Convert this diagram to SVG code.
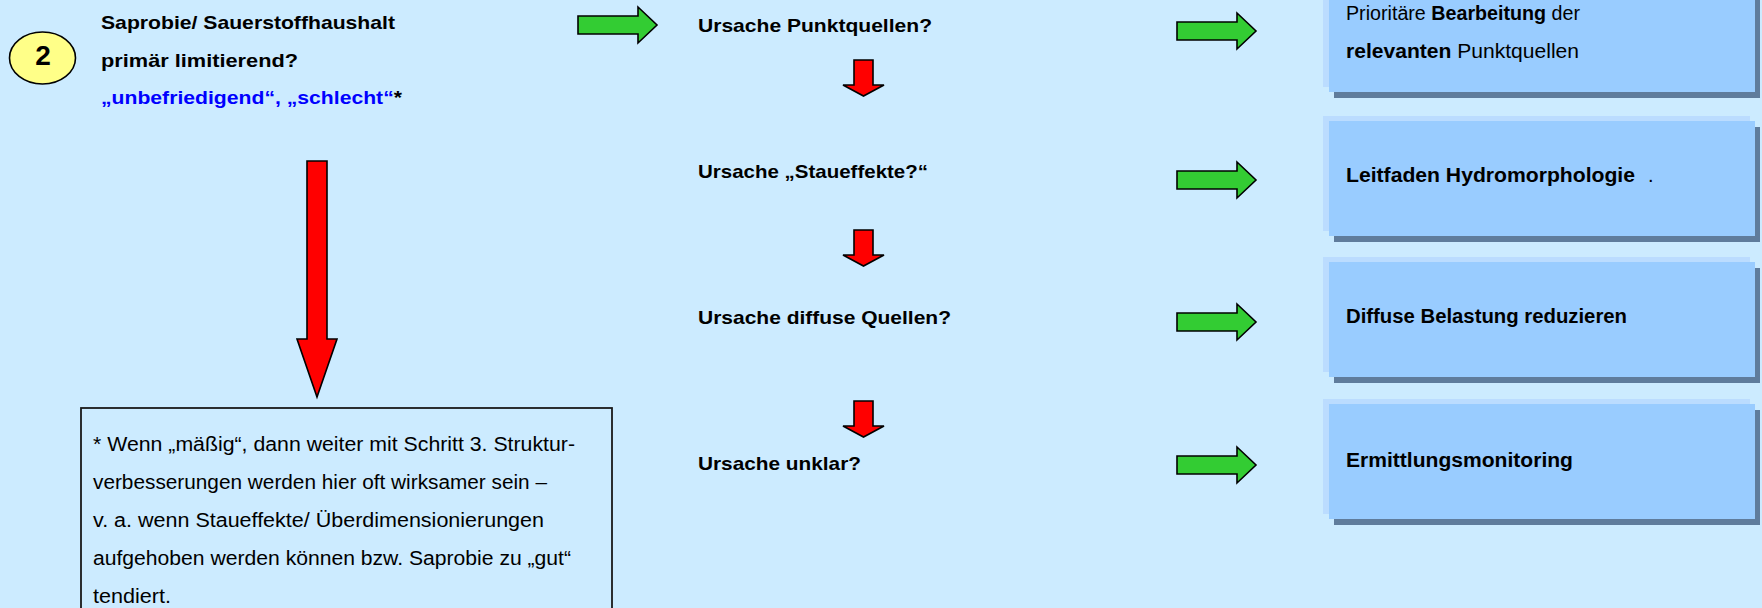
<svg xmlns="http://www.w3.org/2000/svg" width="1762" height="608" viewBox="0 0 1762 608">
<style>
.t{font-family:"Liberation Sans",Arial,sans-serif;fill:#000}
.b{font-weight:bold}
.bl{fill:#0000ff}
.g{fill:#33cc33;stroke:#000;stroke-width:1.6;stroke-linejoin:miter}
.r{fill:#ff0000;stroke:#000;stroke-width:1.6;stroke-linejoin:miter}
.bx{fill:#99ccff}
.lt{fill:#bbdcff}
.sh{fill:#5f7c9c}
</style>
<defs>
<path id="ga" d="M0,9 H60 V0 L79,18 L60,36 V27 H0 Z"/>
<path id="rs" d="M11,0 H30 V25 H41 L20.5,36 L0,25 H11 Z"/>
</defs>
<rect width="1762" height="608" fill="#ccebff"/>

<g id="step-circle">
<ellipse cx="42.5" cy="58" rx="33" ry="26" fill="#ffff88" stroke="#000" stroke-width="1.6"/>
<text class="t b" x="43" y="64.5" font-size="28" text-anchor="middle">2</text>
</g>

<g id="title">
<text class="t b" x="101" y="29" font-size="19" textLength="294" lengthAdjust="spacingAndGlyphs">Saprobie/ Sauerstoffhaushalt</text>
<text class="t b" x="101" y="67" font-size="19" textLength="197" lengthAdjust="spacingAndGlyphs">primär limitierend?</text>
<text class="t b" x="101" y="104" font-size="19" textLength="301" lengthAdjust="spacingAndGlyphs"><tspan class="bl">„unbefriedigend“, „schlecht“</tspan>*</text>
</g>

<g id="footnote">
<rect x="81" y="408" width="531" height="220" fill="none" stroke="#1a1a1a" stroke-width="1.8"/>
<text class="t" x="93" y="451" font-size="20" textLength="482" lengthAdjust="spacingAndGlyphs">* Wenn „mäßig“, dann weiter mit Schritt 3. Struktur-</text>
<text class="t" x="93" y="489" font-size="20" textLength="454" lengthAdjust="spacingAndGlyphs">verbesserungen werden hier oft wirksamer sein –</text>
<text class="t" x="93" y="527" font-size="20" textLength="451" lengthAdjust="spacingAndGlyphs">v. a. wenn Staueffekte/ Überdimensionierungen</text>
<text class="t" x="93" y="565" font-size="20" textLength="478" lengthAdjust="spacingAndGlyphs">aufgehoben werden können bzw. Saprobie zu „gut“</text>
<text class="t" x="93" y="603" font-size="20" textLength="78" lengthAdjust="spacingAndGlyphs">tendiert.</text>
</g>

<g id="cause-point">
<text class="t b" x="698" y="32" font-size="19" textLength="234" lengthAdjust="spacingAndGlyphs">Ursache Punktquellen?</text>
</g>
<g id="cause-stau">
<text class="t b" x="698" y="178" font-size="19" textLength="230" lengthAdjust="spacingAndGlyphs">Ursache „Staueffekte?“</text>
</g>
<g id="cause-diffuse">
<text class="t b" x="698" y="324" font-size="19" textLength="253" lengthAdjust="spacingAndGlyphs">Ursache diffuse Quellen?</text>
</g>
<g id="cause-unclear">
<text class="t b" x="698" y="470" font-size="19" textLength="163" lengthAdjust="spacingAndGlyphs">Ursache unklar?</text>
</g>

<g id="box-point">
<rect class="lt" x="1323" y="-28" width="427" height="115"/>
<rect class="sh" x="1334" y="-17" width="426" height="115"/>
<rect class="bx" x="1329" y="-23" width="426" height="115"/>
<text class="t" x="1346" y="20" font-size="20" textLength="234" lengthAdjust="spacingAndGlyphs">Prioritäre <tspan class="b">Bearbeitung</tspan> der</text>
<text class="t" x="1346" y="58" font-size="20" textLength="233" lengthAdjust="spacingAndGlyphs"><tspan class="b">relevanten</tspan> Punktquellen</text>
</g>
<g id="box-hydro">
<rect class="lt" x="1323" y="116" width="427" height="115"/>
<rect class="sh" x="1334" y="127" width="426" height="115"/>
<rect class="bx" x="1329" y="121" width="426" height="115"/>
<text class="t b" x="1346" y="182" font-size="20" textLength="289" lengthAdjust="spacingAndGlyphs">Leitfaden Hydromorphologie</text>
<text class="t" x="1648" y="182" font-size="20">.</text>
</g>
<g id="box-diffuse">
<rect class="lt" x="1323" y="257" width="427" height="115"/>
<rect class="sh" x="1334" y="268" width="426" height="115"/>
<rect class="bx" x="1329" y="262" width="426" height="115"/>
<text class="t b" x="1346" y="323" font-size="20" textLength="281" lengthAdjust="spacingAndGlyphs">Diffuse Belastung reduzieren</text>
</g>
<g id="box-monitoring">
<rect class="lt" x="1323" y="399" width="427" height="115"/>
<rect class="sh" x="1334" y="410" width="426" height="115"/>
<rect class="bx" x="1329" y="404" width="426" height="115"/>
<text class="t b" x="1346" y="467" font-size="20" textLength="227" lengthAdjust="spacingAndGlyphs">Ermittlungsmonitoring</text>
</g>

<g id="connectors">
<use href="#ga" class="g" x="578" y="7"/>
<use href="#ga" class="g" x="1177" y="13"/>
<use href="#ga" class="g" x="1177" y="162"/>
<use href="#ga" class="g" x="1177" y="304"/>
<use href="#ga" class="g" x="1177" y="447"/>
<use href="#rs" class="r" x="843" y="60"/>
<use href="#rs" class="r" x="843" y="230"/>
<use href="#rs" class="r" x="843" y="401"/>
<path class="r" d="M307,161 H327 V339 H337 L317,397 L297,339 H307 Z"/>
</g>
</svg>
